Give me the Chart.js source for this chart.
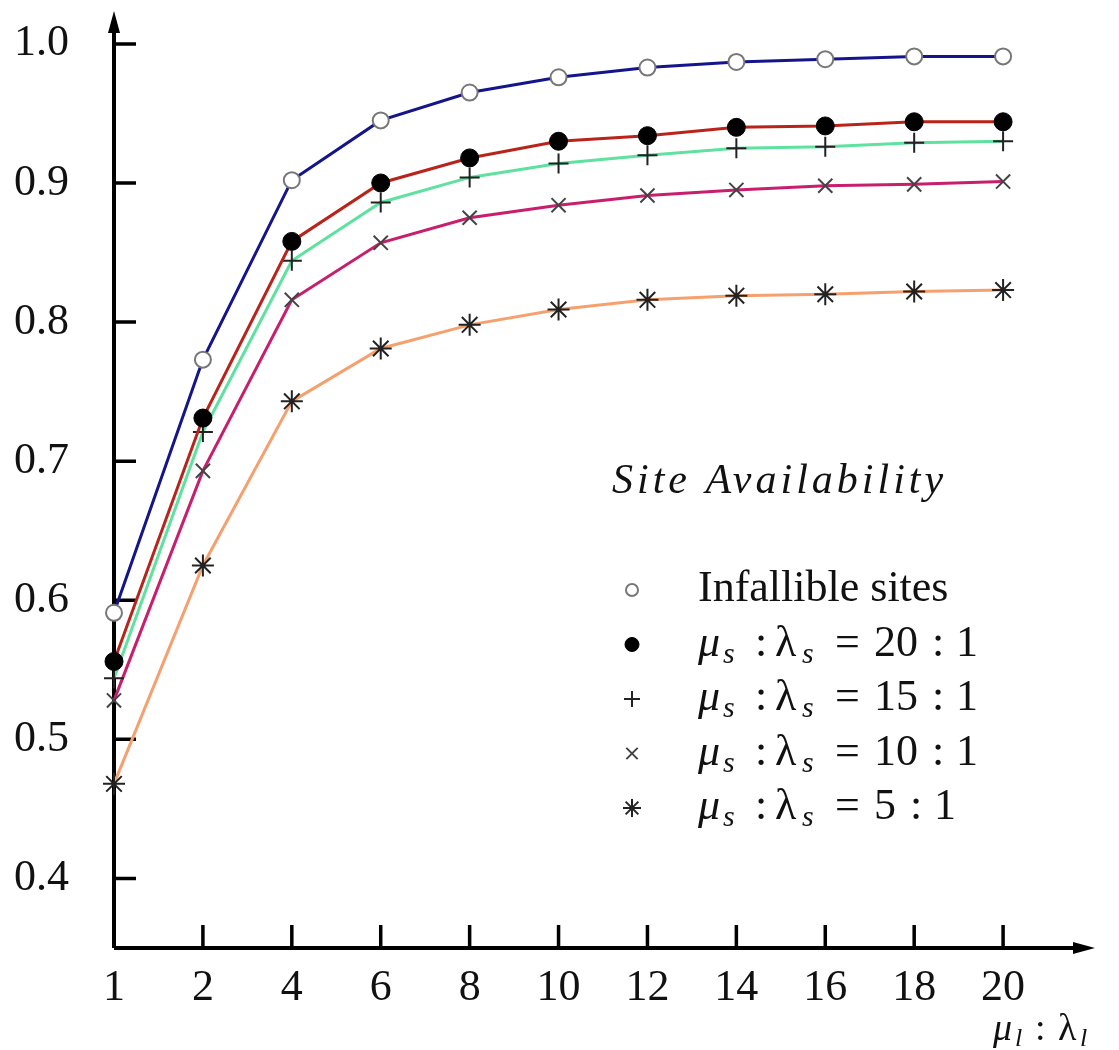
<!DOCTYPE html>
<html>
<head>
<meta charset="utf-8">
<script src="https://cdn.jsdelivr.net/npm/chart.js@4/dist/chart.umd.min.js"></script>
<style>
  html, body { margin: 0; padding: 0; background: #fff; }
  #wrap { width: 1119px; height: 1050px; }
</style>
</head>
<body>
<div id="wrap"><canvas id="mychart" width="1119" height="1050"></canvas></div>
<script>
// values
const xLabels = ['1', '2', '4', '6', '8', '10', '12', '14', '16', '18', '20'];
const yTicks = [0.4, 0.5, 0.6, 0.7, 0.8, 0.9, 1.0];
const infallible = [0.591, 0.773, 0.902, 0.945, 0.965, 0.976, 0.983, 0.987, 0.989, 0.991, 0.991];
const ratio20 = [0.556, 0.731, 0.858, 0.900, 0.918, 0.930, 0.934, 0.940, 0.941, 0.944, 0.944];
const ratio15 = [0.544, 0.721, 0.844, 0.886, 0.904, 0.914, 0.920, 0.925, 0.926, 0.929, 0.930];
const ratio10 = [0.528, 0.693, 0.816, 0.857, 0.875, 0.884, 0.891, 0.895, 0.898, 0.899, 0.901];
const ratio5 = [0.468, 0.625, 0.743, 0.781, 0.798, 0.809, 0.816, 0.819, 0.820, 0.822, 0.823];
const ratioNames = [null, '20', '15', '10', '5'];

const serif = "'Liberation Serif', 'DejaVu Serif', serif";
const ctx = document.getElementById('mychart');

function series(label, data, color, style, radius, markFill, markBorder, markWidth) {
    return {
        label: label,
        data: data,
        borderColor: color,
        backgroundColor: color,
        borderWidth: 3,
        tension: 0,
        fill: false,
        clip: false,
        pointStyle: style,
        pointRadius: radius,
        pointBackgroundColor: markFill,
        pointBorderColor: markBorder,
        pointBorderWidth: markWidth
    };
}

// draws the arrowed axes and the inward tick marks
const axesPlugin = {
    id: 'axesPlugin',
    beforeDatasetsDraw(chart) {
        const c = chart.ctx;
        const area = chart.chartArea;
        const xs = chart.scales.x;
        const ys = chart.scales.y;
        c.save();
        c.strokeStyle = '#000';
        c.fillStyle = '#000';
        c.lineWidth = 4;
        c.beginPath();
        c.moveTo(area.left, area.bottom);
        c.lineTo(area.left, area.top + 14);
        c.moveTo(area.left, area.bottom);
        c.lineTo(area.right - 14, area.bottom);
        c.stroke();
        // arrow heads
        c.beginPath();
        c.moveTo(area.left, area.top - 2);
        c.lineTo(area.left - 6, area.top + 20);
        c.lineTo(area.left + 6, area.top + 20);
        c.closePath();
        c.fill();
        c.beginPath();
        c.moveTo(area.right + 3, area.bottom);
        c.lineTo(area.right - 19, area.bottom - 6);
        c.lineTo(area.right - 19, area.bottom + 6);
        c.closePath();
        c.fill();
        // ticks
        c.lineWidth = 3.5;
        c.beginPath();
        yTicks.forEach(v => {
            const y = ys.getPixelForValue(v);
            c.moveTo(area.left, y);
            c.lineTo(area.left + 22, y);
        });
        for (let i = 1; i < xLabels.length; i++) {
            const x = xs.getPixelForValue(i);
            c.moveTo(x, area.bottom);
            c.lineTo(x, area.bottom - 23);
        }
        c.stroke();
        c.restore();
    },
    afterDraw(chart) {
        const c = chart.ctx;
        c.save();
        c.fillStyle = '#111';
        c.textBaseline = 'alphabetic';

        // legend title
        c.font = 'italic 42px ' + serif;
        c.letterSpacing = '4px';
        c.fillText('Site Availability', 612, 493);
        c.letterSpacing = '0px';

        // legend rows
        chart.data.datasets.forEach((ds, i) => {
            const cy = 590 + i * 54.5;
            c.save();
            c.fillStyle = ds.pointBackgroundColor;
            c.strokeStyle = ds.pointBorderColor;
            c.lineWidth = ds.pointBorderWidth;
            Chart.helpers.drawPoint(c, {
                pointStyle: ds.pointStyle,
                radius: ds.pointRadius - 2,
                borderWidth: ds.pointBorderWidth,
                rotation: 0
            }, 632, cy);
            c.restore();
            const base = cy + 11;
            const x0 = 698;
            if (i === 0) {
                c.font = '44px ' + serif;
                c.fillText(ds.label, x0, base);
                return;
            }
            c.font = 'italic 44px ' + serif;
            c.fillText('\u03bc', x0, base);
            c.font = 'italic 30px ' + serif;
            c.fillText('s', x0 + 25, base + 7);
            c.font = '44px ' + serif;
            c.fillText(':', x0 + 57, base);
            c.fillText('\u03bb', x0 + 77, base);
            c.font = 'italic 30px ' + serif;
            c.fillText('s', x0 + 104, base + 7);
            c.font = '44px ' + serif;
            c.fillText('=', x0 + 137, base);
            const num = ratioNames[i];
            c.fillText(num, x0 + 176, base);
            const nx = x0 + 176 + c.measureText(num).width + 14;
            c.fillText(':', nx, base);
            c.fillText('1', nx + 24, base);
        });

        // x axis title
        c.font = 'italic 38px ' + serif;
        c.fillText('\u03bc', 993, 1040);
        c.font = 'italic 26px ' + serif;
        c.fillText('l', 1015, 1046);
        c.font = '38px ' + serif;
        c.fillText(':', 1035, 1040);
        c.fillText('\u03bb', 1058, 1040);
        c.font = 'italic 26px ' + serif;
        c.fillText('l', 1080, 1046);
        c.restore();
    }
};

new Chart(ctx, {
    type: 'line',
    data: {
        labels: xLabels.concat(['']),
        datasets: [
            series('Infallible sites', infallible, 'rgb(20,20,140)', 'circle', 8, '#fff', '#777', 2),
            series('\u03bcs : \u03bbs = 20 : 1', ratio20, 'rgb(185,35,25)', 'circle', 9, '#000', '#000', 1),
            series('\u03bcs : \u03bbs = 15 : 1', ratio15, 'rgb(95,225,160)', 'cross', 10, '#000', '#222', 2),
            series('\u03bcs : \u03bbs = 10 : 1', ratio10, 'rgb(200,30,110)', 'crossRot', 10, '#444', '#444', 2),
            series('\u03bcs : \u03bbs = 5 : 1', ratio5, 'rgb(245,160,110)', 'star', 11, '#222', '#222', 2)
        ]
    },
    options: {
        responsive: false,
        animation: false,
        layout: { padding: { top: 10, right: 27, left: 0, bottom: 0 } },
        plugins: {
            legend: { display: false },
            tooltip: { enabled: false }
        },
        scales: {
            x: {
                type: 'category',
                offset: false,
                grid: { display: false },
                border: { display: false },
                ticks: {
                    autoSkip: false,
                    maxRotation: 0,
                    padding: 6,
                    color: '#111',
                    font: { family: serif, size: 44 }
                },
                afterFit(scale) {
                    scale.height = 102;
                    scale.paddingLeft = 0;
                    scale.paddingRight = 0;
                }
            },
            y: {
                min: 0.35,
                max: 1.0222,
                grid: { display: false },
                border: { display: false },
                afterBuildTicks(scale) {
                    scale.ticks = yTicks.map(v => ({ value: v }));
                },
                ticks: {
                    padding: 37,
                    color: '#111',
                    font: { family: serif, size: 44 },
                    callback: v => v.toFixed(1)
                },
                afterFit(scale) {
                    scale.width = 114;
                    scale.paddingTop = 0;
                    scale.paddingBottom = 0;
                }
            }
        }
    },
    plugins: [axesPlugin]
});
</script>
</body>
</html>
